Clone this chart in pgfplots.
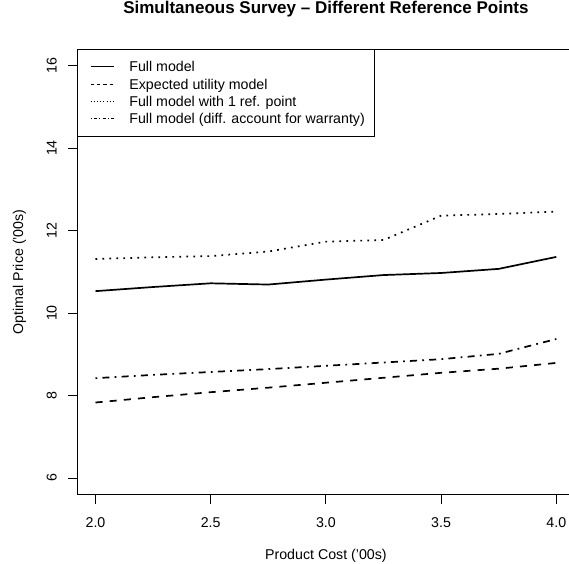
\documentclass[border=0pt]{standalone}
\usepackage{fontspec}
\setmainfont{Liberation Sans}
\usepackage{pgfplots}
\usepackage{pgfplotstable}
\pgfplotsset{compat=1.18}
\pgfplotstableread{
x     full   eu    oneref  warr
2.00  10.53  7.83  11.31   8.42
2.25  10.63  7.96  11.35   8.50
2.50  10.72  8.08  11.38   8.57
2.75  10.69  8.19  11.49   8.64
3.00  10.81  8.31  11.73   8.72
3.25  10.92  8.43  11.77   8.80
3.50  10.97  8.55  12.36   8.88
3.75  11.07  8.65  12.40   9.01
4.00  11.36  8.79  12.46   9.37
}\data
\begin{document}
\begin{tikzpicture}[font=\fontsize{14.2}{17}\selectfont]
\begin{axis}[
  at={(77.05pt,68.5pt)}, anchor=south west,
  scale only axis, width=497.7pt, height=445.5pt,
  xmin=1.92, xmax=4.08, ymin=5.6, ymax=16.4,
  xtick={2,2.5,3,3.5,4},
  xticklabels={2.0,2.5,3.0,3.5,4.0},
  ytick={6,8,10,12,14,16},
  tick pos=left, tick align=outside,
  major tick length=9pt,
  axis line style={line width=0.9pt},
  every tick/.style={black, line width=0.9pt},
  /pgf/number format/assume math mode=true,
  xticklabel style={anchor=base},
  xticklabel shift=23.6pt,
  yticklabel style={rotate=90, anchor=base},
  yticklabel shift=11.4pt,
  title={Simultaneous Survey – Different Reference Points},
  title style={at={(axis description cs:0.5,1.0651)}, anchor=base, font=\bfseries\fontsize{17}{20}\selectfont},
  xlabel={Product Cost ('00s)},
  xlabel style={at={(axis description cs:0.5,-0.1448)}, anchor=base},
  ylabel={Optimal Price ('00s)},
  ylabel style={at={(axis description cs:-0.1085,0.5)}, anchor=base, rotate=0},
  legend cell align=left,
  legend image code/.code={\draw[#1] (0pt,0pt) -- (23.3pt,0pt); \path[draw=none, fill=none] (-3pt,-1pt) rectangle (38.9pt,1pt);},
  legend style={at={(0,1)}, anchor=north west, draw=black, line width=0.9pt, fill=white,
    inner xsep=10pt, inner ysep=8.5pt, row sep=0pt, column sep=0pt,
    nodes={inner sep=0pt, text height=13.8pt, text depth=3.6pt, anchor=west}},
]
\addlegendimage{black, line width=0.7pt, solid}
\addlegendentry{Full model}
\addlegendimage{black, line width=0.7pt, dash pattern=on 3.2pt off 3.2pt}
\addlegendentry{Expected utility model}
\addlegendimage{black, line width=0.7pt, dash pattern=on 0.8pt off 2.4pt}
\addlegendentry{Full model with 1 ref. point}
\addlegendimage{black, line width=0.7pt, dash pattern=on 0.8pt off 2.4pt on 3.2pt off 2.4pt}
\addlegendentry{Full model (diff. account for warranty)}
\addplot[forget plot, black, line width=1.7pt, solid] table[x=x, y=full] {\data};
\addplot[forget plot, black, line width=1.7pt, dash pattern=on 7.1pt off 7.1pt] table[x=x, y=eu] {\data};
\addplot[forget plot, black, line width=1.7pt, dash pattern=on 1.75pt off 5.25pt] table[x=x, y=oneref] {\data};
\addplot[forget plot, black, line width=1.7pt, dash pattern=on 1.75pt off 5.25pt on 7pt off 5.25pt] table[x=x, y=warr] {\data};
\end{axis}
\pgfresetboundingbox
\path (0pt,0pt) rectangle (569pt,563pt);
\end{tikzpicture}
\end{document}
